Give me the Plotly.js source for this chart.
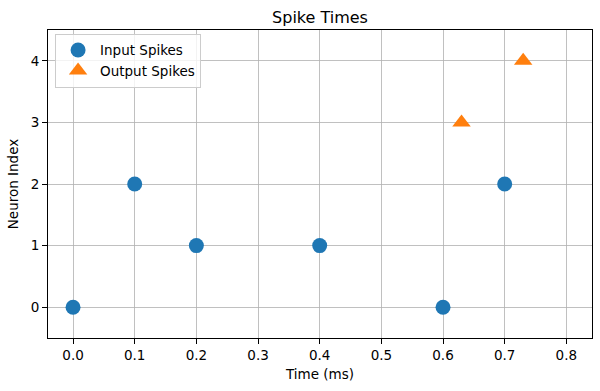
<!DOCTYPE html>
<html>
<head>
<meta charset="utf-8">
<script src="https://cdn.plot.ly/plotly-3.0.1.min.js"></script>
<style>html,body{margin:0;padding:0;background:#fff;}</style>
</head>
<body>
<div id="chart" style="width:600px;height:391px;"></div>
<script>
const inputTimes = [0.0, 0.1, 0.2, 0.4, 0.6, 0.7];
const inputNeurons = [0, 2, 1, 1, 0, 2];
const outputTimes = [0.63, 0.73];
const outputNeurons = [3, 4];
const xTicks = [0, 0.1, 0.2, 0.3, 0.4, 0.5, 0.6, 0.7, 0.8];
const yTicks = [0, 1, 2, 3, 4];

const font = 'DejaVu Sans, sans-serif';
const data = [
  {x: inputTimes, y: inputNeurons, mode: 'markers', type: 'scatter', name: 'Input Spikes',
   marker: {color: '#1f77b4', size: 15, symbol: 'circle'}},
  {x: outputTimes, y: outputNeurons, mode: 'markers', type: 'scatter', name: 'Output Spikes',
   marker: {color: '#ff7f0e', size: 16, symbol: 'triangle-up'}}
];
const axisCommon = {
  showgrid: true, gridcolor: '#b0b0b0', gridwidth: 0.8,
  showline: true, linecolor: '#000', linewidth: 1, mirror: true,
  ticks: 'outside', ticklen: 5, tickcolor: '#000', tickwidth: 1,
  zeroline: false, tickfont: {family: font, size: 13.5, color: '#000'}
};
const layout = {
  width: 600, height: 391,
  margin: {l: 48, r: 8, t: 30, b: 53},
  paper_bgcolor: '#fff', plot_bgcolor: '#fff',
  font: {family: font, color: '#000'},
  title: {text: 'Spike Times', font: {family: font, size: 16, color: '#000'},
          xref: 'paper', x: 0.5, xanchor: 'center', yref: 'container', y: 1 - 17/391, yanchor: 'middle'},
  xaxis: Object.assign({}, axisCommon, {
    range: [-0.0406, 0.8416], tickvals: xTicks, ticktext: xTicks.map(v => v.toFixed(1)),
    title: {text: 'Time (ms)', font: {family: font, size: 13.5, color: '#000'}, standoff: 7}
  }),
  yaxis: Object.assign({}, axisCommon, {
    range: [-0.5, 4.5], tickvals: yTicks, ticktext: yTicks.map(String),
    title: {text: 'Neuron Index', font: {family: font, size: 13.5, color: '#000'}, standoff: 8}
  }),
  showlegend: true,
  legend: {x: 0.013, y: 0.988, xanchor: 'left', yanchor: 'top',
           bgcolor: 'rgba(255,255,255,0.8)', bordercolor: '#cccccc', borderwidth: 1,
           font: {family: font, size: 13.5, color: '#000'}, itemwidth: 34, tracegroupgap: 0}
};
Plotly.newPlot('chart', data, layout, {displayModeBar: false, staticPlot: true});
</script>
</body>
</html>
